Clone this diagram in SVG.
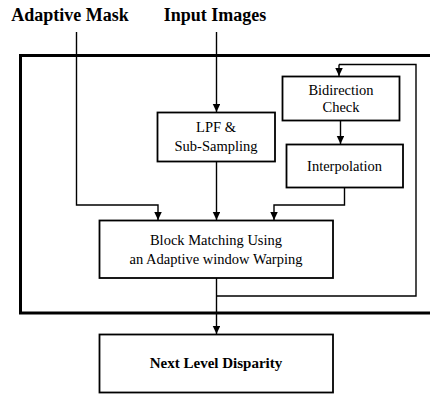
<svg xmlns="http://www.w3.org/2000/svg" width="430" height="396" viewBox="0 0 430 396">
<defs>
<marker id="ah" markerUnits="userSpaceOnUse" markerWidth="9" markerHeight="8" refX="8" refY="3.75" orient="auto">
<path d="M0,0 L8,3.75 L0,7.5 z" fill="#000"/>
</marker>
<style>
.box{fill:#fff;stroke:#000;stroke-width:1.8}
.frame{fill:none;stroke:#000;stroke-width:3}
.ln{fill:none;stroke:#000;stroke-width:1.4}
.arr{fill:none;stroke:#000;stroke-width:1.4;marker-end:url(#ah)}
.t{font-family:"Liberation Serif","Times New Roman",serif;font-size:14.5px;fill:#000;text-anchor:middle}
.tb{font-family:"Liberation Serif","Times New Roman",serif;font-weight:bold;fill:#000;text-anchor:middle}
</style>
</defs>
<rect width="430" height="396" fill="#fff"/>
<g id="frame"><rect class="frame" x="20.5" y="55.5" width="430" height="257.5"/></g>
<g id="labels">
<text class="tb" x="70" y="21" font-size="18">Adaptive Mask</text>
<text class="tb" x="215" y="21" font-size="18">Input Images</text>
</g>
<g id="connectors">
<path class="arr" d="M216.5,32 V112"/>
<path class="arr" d="M76.5,32 V205 H158 V220"/>
<path class="arr" d="M216.5,162 V220"/>
<path class="arr" d="M344.5,187 V205 H274 V220"/>
<path class="arr" d="M340.5,121 V144"/>
<path class="ln" d="M216.5,296 H416 V64.5 H339"/>
<path class="arr" d="M339,64.5 V76"/>
<path class="arr" d="M216.5,278 V334"/>
</g>
<g id="lpf"><rect class="box" x="157.5" y="112.5" width="117.5" height="49"/>
<text class="t" x="216" y="131.5">LPF &amp;</text>
<text class="t" x="216" y="150.5">Sub-Sampling</text></g>
<g id="bidir"><rect class="box" x="282.5" y="76.5" width="117" height="44"/>
<text class="t" x="341" y="95">Bidirection</text>
<text class="t" x="341" y="112">Check</text></g>
<g id="interp"><rect class="box" x="286.5" y="144.5" width="116.5" height="43"/>
<text class="t" x="344.5" y="171">Interpolation</text></g>
<g id="block"><rect class="box" x="99.5" y="220.5" width="233.5" height="57.5"/>
<text class="t" x="216" y="244.5">Block Matching Using</text>
<text class="t" x="216" y="263.5">an Adaptive window Warping</text></g>
<g id="next"><rect class="box" x="99.5" y="334.5" width="233.5" height="58"/>
<text class="tb" x="216" y="367.5" font-size="15">Next Level Disparity</text></g>
</svg>
